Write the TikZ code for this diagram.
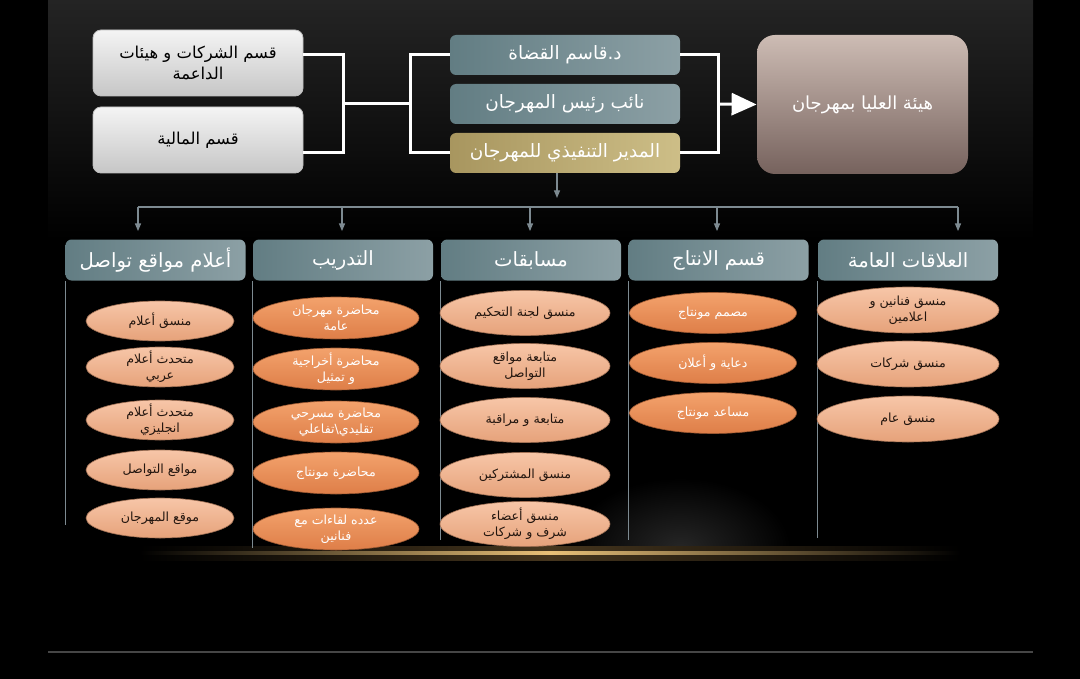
\documentclass[tikz,border=0pt]{standalone}
\usepackage{fontspec}
\usetikzlibrary{arrows,arrows.meta,shapes.geometric}
\newfontfamily\arabicfont[Script=Arabic]{DejaVu Sans}
\TeXXeTstate=1
\newcommand{\arl}[1]{{\arabicfont\beginR #1\endR}}

\definecolor{tealA}{RGB}{98,125,131}
\definecolor{tealB}{RGB}{140,160,165}
\definecolor{goldA}{RGB}{168,150,95}
\definecolor{goldB}{RGB}{205,190,135}
\definecolor{greyA}{RGB}{244,244,244}
\definecolor{greyB}{RGB}{198,198,198}
\definecolor{roseA}{RGB}{205,188,180}
\definecolor{roseB}{RGB}{118,98,93}
\definecolor{peachA}{RGB}{247,198,168}
\definecolor{peachB}{RGB}{230,162,122}
\definecolor{orngA}{RGB}{243,162,108}
\definecolor{orngB}{RGB}{222,126,72}
\definecolor{wire}{RGB}{125,138,145}
\definecolor{inkdark}{RGB}{35,22,15}
\definecolor{glow}{RGB}{232,192,120}
\definecolor{glowdim}{RGB}{70,54,30}
\definecolor{slidetop}{RGB}{36,36,36}
\definecolor{spot}{RGB}{38,38,38}
\definecolor{rule}{RGB}{70,70,70}

\begin{document}
\begin{tikzpicture}[x=0.5pt,y=-0.5pt,>={Triangle[length=3.8pt,width=3pt]},
	greybox/.style={draw=white!75!black,rounded corners=4pt,top color=greyA,bottom color=greyB,
		minimum width=105pt,minimum height=33pt,align=center,text=black,font=\fontsize{8.2}{10.5}\selectfont},
	tealbox/.style={rounded corners=3pt,left color=tealA,right color=tealB,
		minimum width=115pt,minimum height=20pt,text=white,font=\fontsize{9.2}{11}\selectfont},
	goldbox/.style={tealbox,left color=goldA,right color=goldB},
	headbox/.style={tealbox,minimum width=90pt,minimum height=20.5pt,font=\fontsize{9.8}{12}\selectfont},
	peachpill/.style={ellipse,inner sep=0pt,draw=peachB!70!black,line width=0.3pt,top color=peachA,bottom color=peachB},
	orngpill/.style={ellipse,inner sep=0pt,draw=orngB!70!black,line width=0.3pt,top color=orngA,bottom color=orngB},
	darkink/.style={align=center,text=inkdark,inner sep=0pt,font=\fontsize{6.3}{8}\selectfont},
	lightink/.style={darkink,text=white},
	bracket/.style={white,line width=1.5pt},
	wirestyle/.style={wire,line width=0.6pt}]

	% background
	\useasboundingbox (0,0) rectangle (1080,679);
	\fill[black] (0,0) rectangle (1080,679);
	\shade[top color=slidetop,bottom color=black] (48,0) rectangle (1033,240);
	\begin{scope}
		\clip (440,420) rectangle (880,551);
		\shade[inner color=spot,outer color=black] (680,548) ellipse (110 and 70);
	\end{scope}
	\shade[left color=black,right color=black,middle color=glowdim] (140,546) rectangle (960,560);
	\shade[left color=black,right color=black,middle color=glow] (140,551.5) rectangle (960,554.5);
	\draw[rule,line width=0.8pt] (48,652) -- (1033,652);

	% top row
	\node[greybox] (sk) at (198,63) {\arl{قسم الشركات و هيئات}\\\arl{الداعمة}};
	\node[greybox] (ml) at (198,140) {\arl{قسم المالية}};
	\node[tealbox] (kq) at (565,55) {\arl{د.قاسم القضاة}};
	\node[tealbox] (nr) at (565,104) {\arl{نائب رئيس المهرجان}};
	\node[goldbox] (md) at (565,153) {\arl{المدير التنفيذي للمهرجان}};
	\node[rounded corners=9pt,top color=roseA,bottom color=roseB,minimum width=105.5pt,minimum height=69.5pt,
		text=white,font=\fontsize{9}{11}\selectfont] (hb) at (862.5,104.5) {\arl{هيئة العليا بمهرجان}};

	\coordinate (lb) at (343,104);
	\coordinate (rb) at (410,104);
	\coordinate (tb) at (718,104);
	\draw[bracket] (sk.east |- kq.west) -| (lb) |- (ml.east |- md.west);
	\draw[bracket] (lb) -- (rb);
	\draw[bracket] (kq.west) -| (rb) |- (md.west);
	\draw[bracket] (kq.east) -| (tb) |- (md.east);
	\draw[white,line width=1.5pt,-{Triangle[length=12.5pt,width=11pt]}] (tb) -- (hb.west);

	% headers
	\node[headbox] (h1) at (155.5,260) {\arl{أعلام مواقع تواصل}};
	\node[headbox] (h2) at (343,260) {\arl{التدريب}};
	\node[headbox] (h3) at (531,260) {\arl{مسابقات}};
	\node[headbox] (h4) at (718.5,260) {\arl{قسم الانتاج}};
	\node[headbox] (h5) at (908,260) {\arl{العلاقات العامة}};

	\coordinate (mdtip) at (557,198);
	\coordinate (busL) at (138,207);
	\coordinate (busR) at (958,207);
	\draw[wirestyle,->] (md.south -| mdtip) -- (mdtip);
	\draw[wirestyle] (busL) -- (busR);
	\foreach \hd/\xx in {h1/138,h2/342,h3/530,h4/717,h5/958}
		\draw[wirestyle,->,shorten >=4pt] (\xx,207) -- (\hd.north -| \xx,0);
	\foreach \hd/\yend in {h1/525,h2/548,h3/540,h4/540,h5/538}
		\draw[wirestyle] (\hd.south west) -- (\hd.south west |- 0,\yend);

	% columns
	\foreach \yy/\txt [count=\i] in {321/{\arl{منسق أعلام}},367/{\arl{متحدث أعلام}\\\arl{عربي}},
		420/{\arl{متحدث أعلام}\\\arl{انجليزي}},470/{\arl{مواقع التواصل}},518/{\arl{موقع المهرجان}}}
	{
		\node[peachpill,minimum width=74pt,minimum height=20pt] (ca-\i) at (160,\yy) {};
		\node[darkink] at (ca-\i) {\txt};
	}
	\foreach \yy/\txt [count=\i] in {318/{\arl{محاضرة مهرجان}\\\arl{عامة}},369/{\arl{محاضرة أخراجية}\\\arl{و تمثيل}},
		422/{\arl{محاضرة مسرحي}\\\arl{تقليدي\textbackslash{}تفاعلي}},473/{\arl{محاضرة مونتاج}},529/{\arl{عدده لقاءات مع}\\\arl{فنانين}}}
	{
		\node[orngpill,minimum width=83pt,minimum height=21pt] (cb-\i) at (336,\yy) {};
		\node[lightink] at (cb-\i) {\txt};
	}
	\foreach \yy/\txt [count=\i] in {313/{\arl{منسق لجنة التحكيم}},366/{\arl{متابعة مواقع}\\\arl{التواصل}},
		420/{\arl{متابعة و مراقبة}},475/{\arl{منسق المشتركين}},524/{\arl{منسق أعضاء}\\\arl{شرف و شركات}}}
	{
		\node[peachpill,minimum width=85pt,minimum height=22.5pt] (cc-\i) at (525,\yy) {};
		\node[darkink] at (cc-\i) {\txt};
	}
	\foreach \yy/\txt [count=\i] in {313/{\arl{مصمم مونتاج}},363/{\arl{دعاية و أعلان}},413/{\arl{مساعد مونتاج}}}
	{
		\node[orngpill,minimum width=83.5pt,minimum height=20.5pt] (cd-\i) at (713,\yy) {};
		\node[lightink] at (cd-\i) {\txt};
	}
	\foreach \yy/\txt [count=\i] in {310/{\arl{منسق فنانين و}\\\arl{اعلامين}},364/{\arl{منسق شركات}},419/{\arl{منسق عام}}}
	{
		\node[peachpill,minimum width=91pt,minimum height=23pt] (ce-\i) at (908,\yy) {};
		\node[darkink] at (ce-\i) {\txt};
	}
\end{tikzpicture}
\end{document}
